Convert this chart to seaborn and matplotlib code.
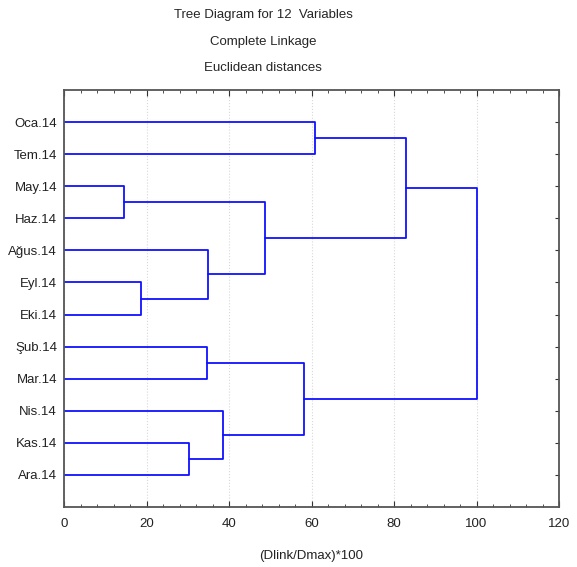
import numpy as np
import pandas as pd
import matplotlib
matplotlib.use("Agg")
import matplotlib.pyplot as plt
from matplotlib.ticker import MultipleLocator
import seaborn as sns

# Leaf labels, top to bottom
leaves = ['Oca.14', 'Tem.14', 'May.14', 'Haz.14', 'Ağus.14', 'Eyl.14',
          'Eki.14', 'Şub.14', 'Mar.14', 'Nis.14', 'Kas.14', 'Ara.14']

# Merges (linkage style): child a, child b, link distance (Dlink/Dmax)*100
merge_a = [2, 5, 10, 7, 4, 9, 12, 15, 0, 20, 21]
merge_b = [3, 6, 11, 8, 13, 14, 16, 17, 1, 18, 19]
merge_h = [14.5, 18.6, 30.4, 34.6, 34.8, 38.5, 48.8, 58.1, 60.8, 82.8, 100.0]

# Build link segments
pos = {i: (0.0, i + 1.0) for i in range(len(leaves))}
rows = []
for k, (a, b, h) in enumerate(zip(merge_a, merge_b, merge_h)):
    xa, ya = pos[a]
    xb, yb = pos[b]
    for x, y in [(xa, ya), (h, ya), (h, yb), (xb, yb)]:
        rows.append({'link': k, 'x': x, 'y': y})
    pos[len(leaves) + k] = (h, (ya + yb) / 2)
links = pd.DataFrame(rows)

sns.set_style('white')
plt.rcParams['font.family'] = ['Liberation Sans Narrow', 'Liberation Sans', 'DejaVu Sans']
fs = 9.5

fig = plt.figure(figsize=(5.77, 5.67), dpi=100)
ax = fig.add_axes([64 / 577, 1 - 507 / 567, (559 - 64) / 577, (507 - 90) / 567])

sns.lineplot(data=links, x='x', y='y', units='link', estimator=None, sort=False,
             color='#1010ff', linewidth=1.3, ax=ax, legend=False)

ax.set_xlim(0, 120)
ax.set_ylim(len(leaves) + 1, 0)
ax.xaxis.set_major_locator(MultipleLocator(20))
ax.xaxis.set_minor_locator(MultipleLocator(4))
ax.set_yticks(np.arange(1, len(leaves) + 1))
ax.set_yticklabels(leaves)
ax.grid(axis='x', which='major', color='#d8d8d8', linestyle=':', linewidth=0.8)
ax.set_axisbelow(True)

ax.tick_params(axis='x', which='both', direction='in', top=True, bottom=True,
               labelsize=fs, pad=8, color='#333333', labelcolor='#222222')
ax.tick_params(axis='x', which='major', length=4)
ax.tick_params(axis='x', which='minor', length=2.5)
ax.tick_params(axis='y', direction='in', left=False, right=True, length=3,
               labelsize=fs, pad=5, color='#333333', labelcolor='#222222')
for s in ax.spines.values():
    s.set_color('#555555')
    s.set_linewidth(1.3)

ax.set_xlabel('(Dlink/Dmax)*100', fontsize=fs, labelpad=14, color='#222222')
ax.set_ylabel('')

fig.text(263 / 577, 1 - 15 / 567, 'Tree Diagram for 12  Variables', ha='center', va='center', fontsize=fs)
fig.text(263 / 577, 1 - 42 / 567, 'Complete Linkage', ha='center', va='center', fontsize=fs)
fig.text(263 / 577, 1 - 68 / 567, 'Euclidean distances', ha='center', va='center', fontsize=fs)

fig.savefig('out.png', dpi=100)
